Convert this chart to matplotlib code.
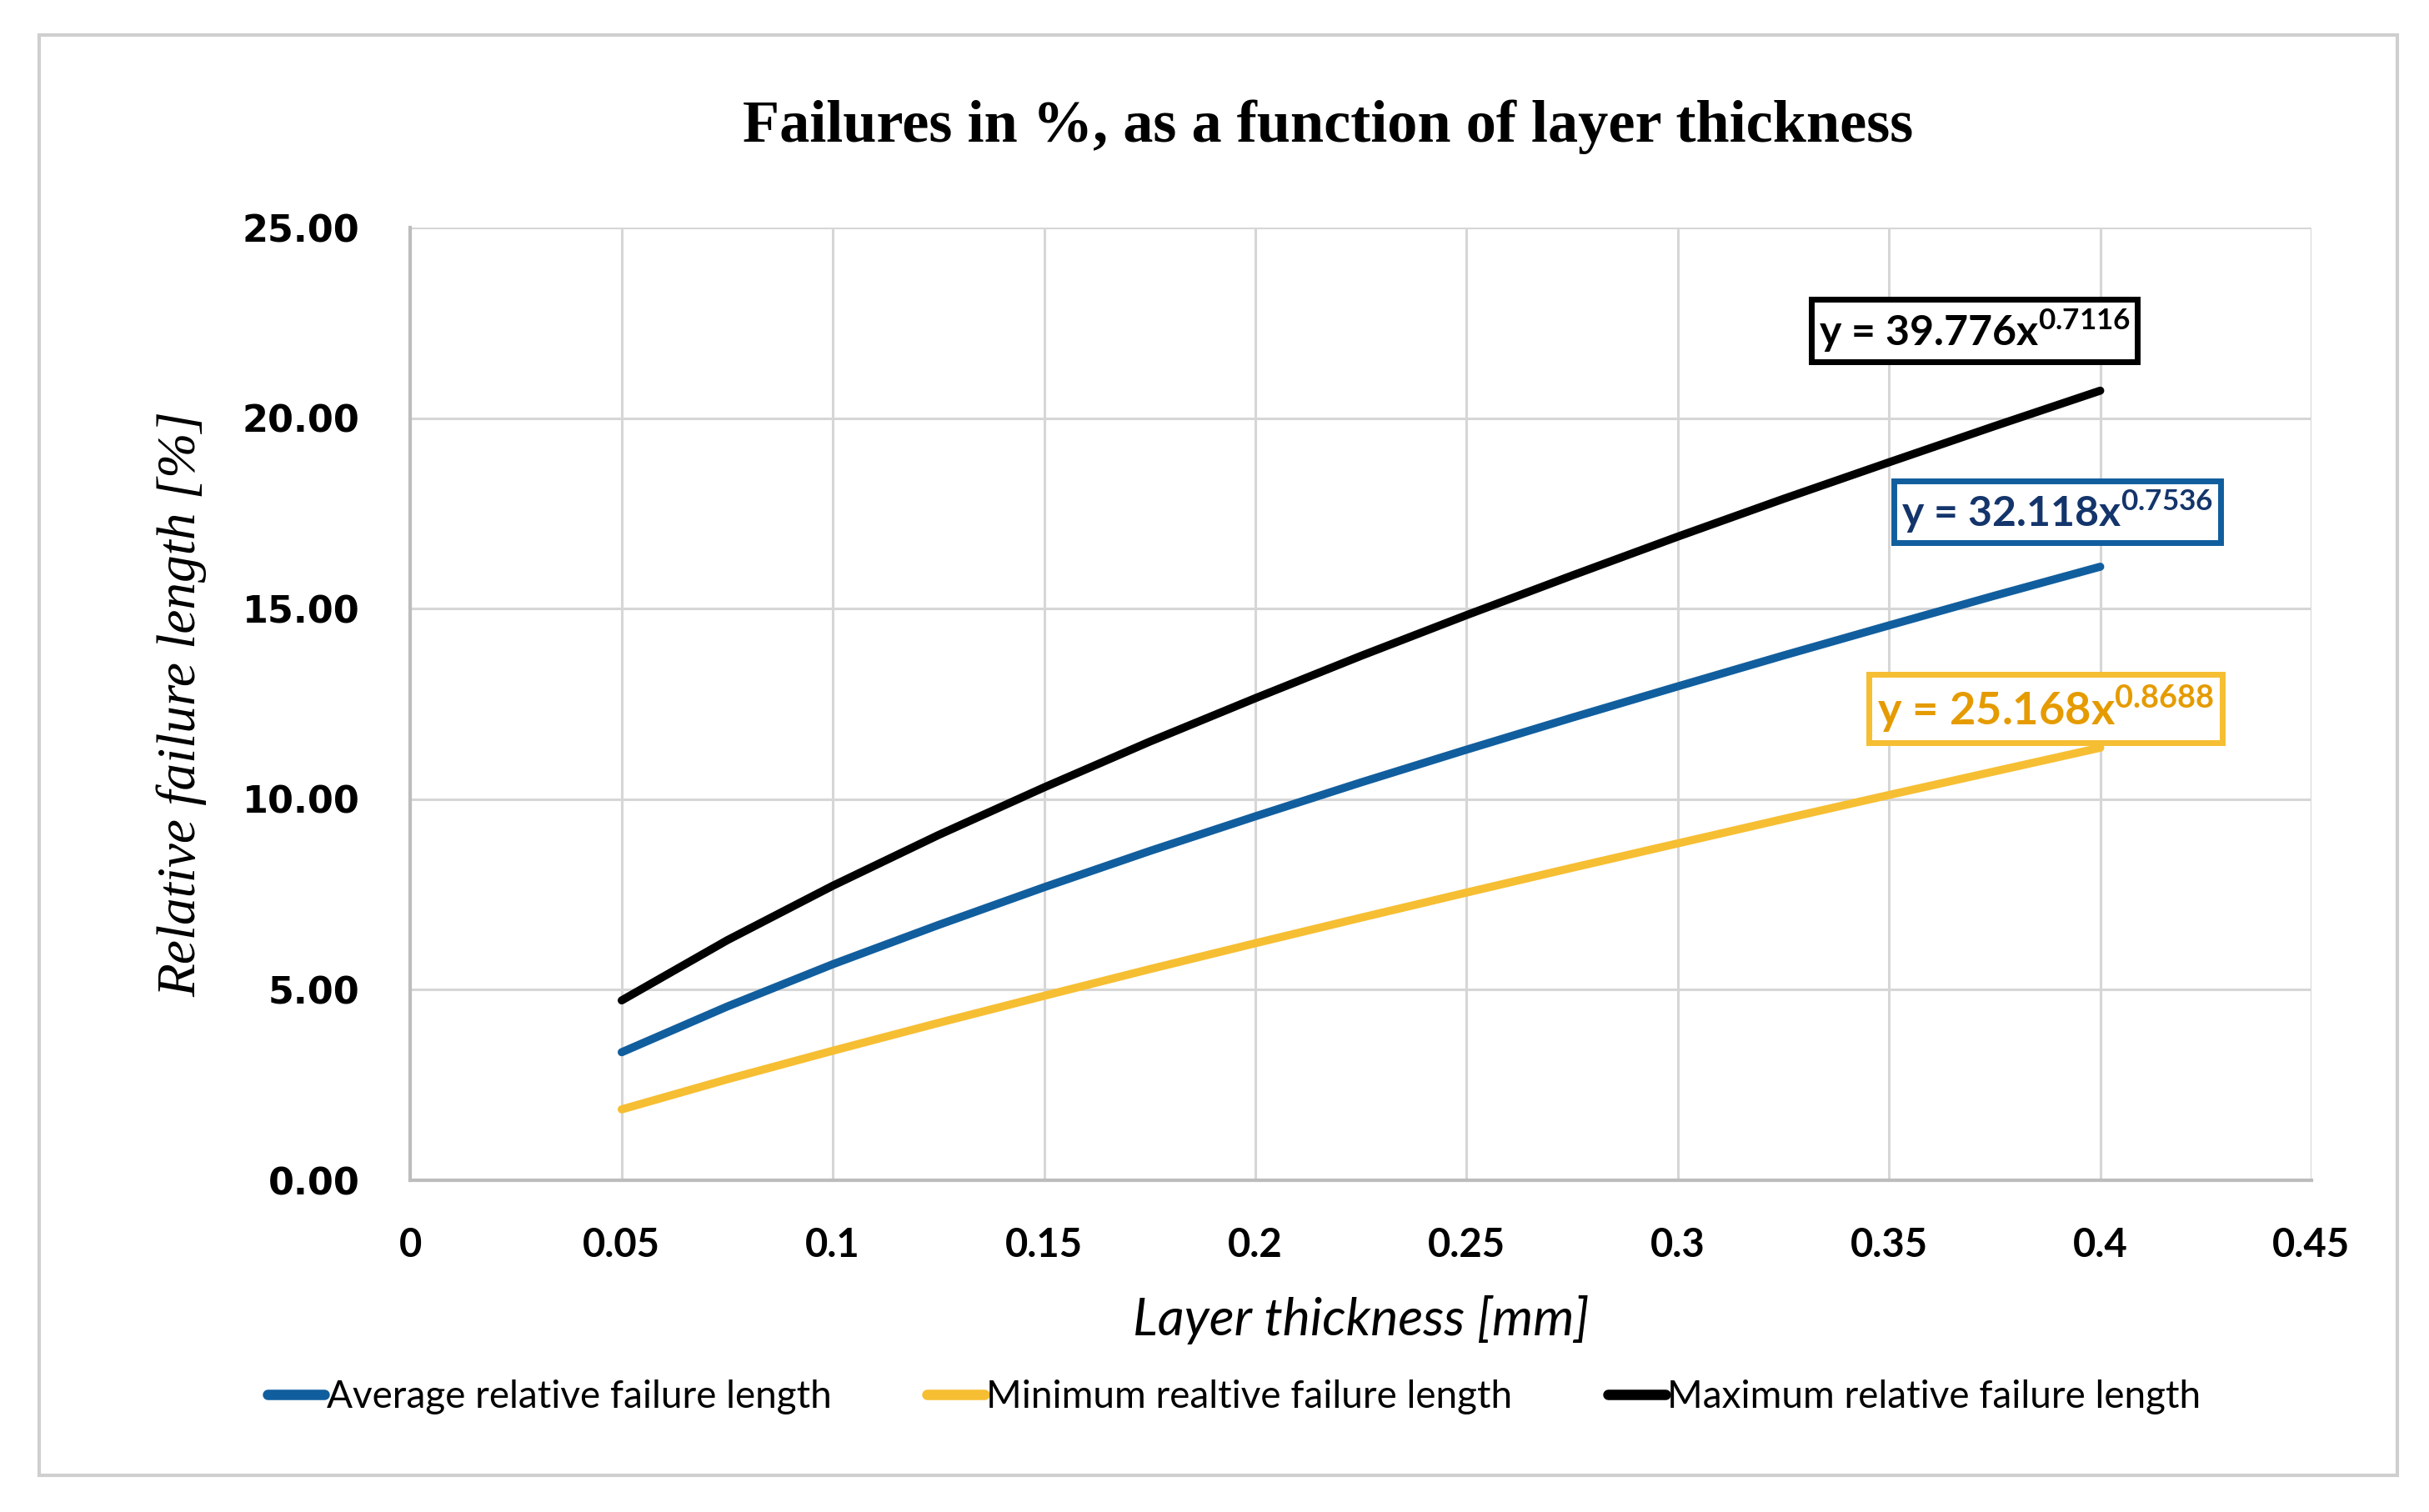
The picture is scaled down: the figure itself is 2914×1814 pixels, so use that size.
import matplotlib
matplotlib.use("Agg")
import matplotlib.pyplot as plt
from matplotlib.patches import Rectangle

# ---- data ----
thickness = [0.05, 0.075, 0.10, 0.125, 0.15, 0.175, 0.20, 0.225, 0.25,
             0.275, 0.30, 0.325, 0.35, 0.375, 0.40]
avg_failure = [3.36, 4.56, 5.67, 6.70, 7.69, 8.64, 9.55, 10.44, 11.30,
               12.14, 12.96, 13.77, 14.56, 15.34, 16.10]
min_failure = [1.86, 2.65, 3.40, 4.13, 4.84, 5.54, 6.22, 6.89, 7.55,
               8.20, 8.84, 9.48, 10.11, 10.73, 11.35]
max_failure = [4.72, 6.30, 7.73, 9.06, 10.31, 11.51, 12.65, 13.76, 14.83,
               15.87, 16.89, 17.88, 18.84, 19.79, 20.72]

series_labels = ["Average relative failure length",
                 "Minimum realtive failure length",
                 "Maximum relative failure length"]
equations = ["y = 32.118x$^{0.7536}$", "y = 25.168x$^{0.8688}$", "y = 39.776x$^{0.7116}$"]
x_ticks = [0, 0.05, 0.1, 0.15, 0.2, 0.25, 0.3, 0.35, 0.4, 0.45]
x_tick_labels = ["0", "0.05", "0.1", "0.15", "0.2", "0.25", "0.3", "0.35", "0.4", "0.45"]
y_ticks = [0, 5, 10, 15, 20, 25]
y_tick_labels = ["0.00", "5.00", "10.00", "15.00", "20.00", "25.00"]

title = "Failures in %, as a function of layer thickness"
xlabel = "Layer thickness [mm]"
ylabel = "Relative failure length [%]"

BLUE = "#115E9E"
YELLOW = "#F6BE32"
BLACK = "#000000"
NAVY = "#14356B"
ORANGE = "#E59B00"

plt.rcParams["mathtext.fontset"] = "custom"
plt.rcParams["mathtext.rm"] = "Lato:bold"
plt.rcParams["mathtext.bf"] = "Lato:bold"

fig = plt.figure(figsize=(29.14, 18.14), dpi=100)
ax = fig.add_axes([0.169, 0.2194, 0.7826, 0.6301])

ax.plot(thickness, avg_failure, color=BLUE, lw=7, solid_capstyle="round",
        solid_joinstyle="round", label=series_labels[0], zorder=3)
ax.plot(thickness, min_failure, color=YELLOW, lw=7, solid_capstyle="round",
        solid_joinstyle="round", label=series_labels[1], zorder=3)
ax.plot(thickness, max_failure, color=BLACK, lw=7, solid_capstyle="round",
        solid_joinstyle="round", label=series_labels[2], zorder=3)

ax.set_xlim(0, 0.45)
ax.set_ylim(0, 25)
ax.set_xticks(x_ticks)
ax.set_xticklabels(x_tick_labels, fontfamily="Lato", fontweight="bold", fontsize=34)
ax.set_yticks(y_ticks)
ax.set_yticklabels(y_tick_labels, fontfamily="DejaVu Sans", fontweight="bold", fontsize=32)
ax.tick_params(axis="both", length=0)
ax.tick_params(axis="x", pad=40)
ax.tick_params(axis="y", pad=44)
ax.grid(True, color="#D6D6D6", lw=2.2)
ax.set_axisbelow(True)
for s in ["top", "right"]:
    ax.spines[s].set_visible(False)
for s in ["left", "bottom"]:
    ax.spines[s].set_color("#BDBDBD")
    ax.spines[s].set_linewidth(3)

ax.set_xlabel(xlabel, fontfamily="Lato", fontstyle="italic", fontsize=45, labelpad=28)
ax.set_ylabel(ylabel, fontfamily="Liberation Serif", fontstyle="italic", fontsize=47, labelpad=30)

fig.text(0.5466, 0.916, title, ha="center", va="center",
         fontfamily="Liberation Serif", fontweight="bold", fontsize=52)

# equation boxes
eq_pos = [(0.3899, 17.54), (0.3871, 12.38), (0.3702, 22.30)]
eq_sizes = [36, 39, 36]
eq_text_colors = [NAVY, ORANGE, BLACK]
eq_edge_colors = [BLUE, YELLOW, BLACK]
for eq, (ex, ey), fs, tc, ec in zip(equations, eq_pos, eq_sizes, eq_text_colors, eq_edge_colors):
    ax.text(ex, ey, eq, ha="center", va="center", color=tc, fontfamily="Lato",
            fontweight="bold", fontsize=fs, zorder=5,
            bbox=dict(boxstyle="square,pad=0.18", fc="white", ec=ec, lw=5))

leg = fig.legend(loc="center", bbox_to_anchor=(0.508, 0.076), ncol=3, frameon=False,
                 prop={"family": "Lato", "size": 33}, handlelength=1.5,
                 handletextpad=0.05, columnspacing=2.5)
for h in leg.get_lines():
    h.set_linewidth(9)

# outer chart border
fig.patches.append(Rectangle((0.016, 0.024), 0.971, 0.953, transform=fig.transFigure,
                             fill=False, ec="#CFCFCF", lw=3))

fig.savefig("out.png", dpi=100, facecolor="white")
